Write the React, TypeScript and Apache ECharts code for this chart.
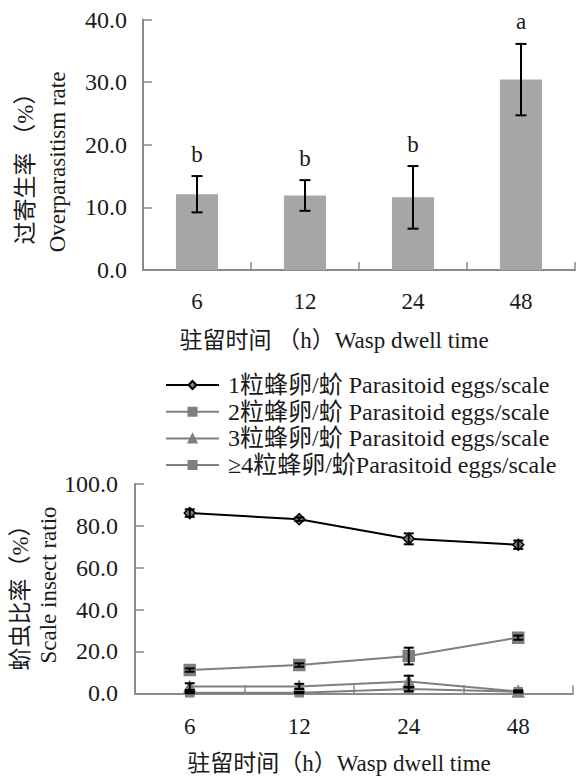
import React, { useEffect, useRef } from "react";
import * as echarts from "echarts";

const categories = ["6", "12", "24", "48"];
const overRate = [12.1, 11.9, 11.6, 30.4];
const overErr = [2.9, 2.45, 5.0, 5.7];
const overLetters = ["b", "b", "b", "a"];

const seriesNames = [
  "1粒蜂卵/蚧 Parasitoid eggs/scale",
  "2粒蜂卵/蚧 Parasitoid eggs/scale",
  "3粒蜂卵/蚧 Parasitoid eggs/scale",
  "≥4粒蜂卵/蚧Parasitoid eggs/scale",
];
const egg1 = [86.1, 83.2, 73.8, 71.0];
const egg1Err = [1.8, 0.8, 2.6, 2.0];
const egg2 = [11.1, 13.5, 17.8, 26.6];
const egg2Err = [0.8, 0.8, 4.0, 1.0];
const egg3 = [3.2, 3.3, 5.6, 0.9];
const egg3Err = [1.6, 1.2, 2.8, 0.5];
const egg4 = [0.3, 0.3, 2.0, 0.8];
const egg4Err = [0.3, 0.3, 1.0, 0.3];

const FONT = "Liberation Serif, Noto Sans CJK SC, serif";
const AX = "#8a8a8a";
const TXT = "#1a1a1a";
const GREY = "#7f7f7f";

function errorRender(capHalf: number, withLetter: boolean) {
  return (params: any, api: any) => {
    const idx = api.value(0);
    const v = api.value(1);
    const e = api.value(2);
    const hi = api.coord([idx, v + e]);
    const lo = api.coord([idx, Math.max(v - e, 0)]);
    const style = { stroke: "#000", lineWidth: 2 };
    const children: any[] = [
      { type: "line", shape: { x1: hi[0], y1: hi[1], x2: lo[0], y2: lo[1] }, style },
      { type: "line", shape: { x1: hi[0] - capHalf, y1: hi[1], x2: hi[0] + capHalf, y2: hi[1] }, style },
      { type: "line", shape: { x1: lo[0] - capHalf, y1: lo[1], x2: lo[0] + capHalf, y2: lo[1] }, style },
    ];
    if (withLetter) {
      children.push({
        type: "text",
        x: hi[0],
        y: hi[1] - 22,
        style: {
          text: overLetters[params.dataIndex],
          fontFamily: FONT,
          fontSize: 23,
          fill: TXT,
          textAlign: "center",
          textVerticalAlign: "middle",
        },
      });
    }
    return { type: "group", children };
  };
}

export default function App() {
  const ref = useRef<HTMLDivElement>(null);
  useEffect(() => {
    document.body.style.margin = "0";
    const chart = echarts.init(ref.current!, null, { renderer: "svg" });
    const xAxisBase = (gridIndex: number, margin: number) => ({
      type: "category",
      gridIndex,
      data: categories,
      boundaryGap: true,
      axisLine: { lineStyle: { color: AX, width: 2 } },
      axisTick: { show: true, inside: true, length: 8, lineStyle: { color: AX, width: 1.5 } },
      axisLabel: { margin, fontSize: 23, color: TXT, fontFamily: FONT },
      splitLine: { show: false },
    });
    const yAxisBase = (gridIndex: number, max: number, interval: number, margin: number) => ({
      type: "value",
      gridIndex,
      min: 0,
      max,
      interval,
      axisLine: { show: true, lineStyle: { color: AX, width: 2 } },
      axisTick: { show: true, inside: true, length: 9, lineStyle: { color: AX, width: 1.5 } },
      axisLabel: {
        margin,
        fontSize: 24,
        color: TXT,
        fontFamily: FONT,
        formatter: (v: number) => v.toFixed(1),
      },
      splitLine: { show: false },
    });
    const lineSeries = (name: string, data: number[], symbol: string, size: number, lineColor: string, borderColor: string) => ({
      type: "line",
      name,
      xAxisIndex: 1,
      yAxisIndex: 1,
      data,
      symbol,
      symbolSize: size,
      lineStyle: { color: lineColor, width: 2 },
      itemStyle: { color: GREY, borderColor, borderWidth: 1.5 },
      z: 3,
    });
    const errData = (vals: number[], errs: number[]) => vals.map((v, i) => [i, v, errs[i]]);
    chart.setOption({
      animation: false,
      textStyle: { fontFamily: FONT },
      grid: [
        { left: 143, top: 19.5, width: 432, height: 250.5 },
        { left: 135, top: 484, width: 438, height: 209.3 },
      ],
      xAxis: [xAxisBase(0, 20), xAxisBase(1, 22)],
      yAxis: [yAxisBase(0, 40, 10, 16), yAxisBase(1, 100, 20, 17)],
      legend: {
        data: seriesNames,
        orient: "vertical",
        left: 165,
        top: 373,
        padding: 0,
        itemWidth: 53,
        itemHeight: 10,
        itemGap: 2.7,
        textStyle: { fontSize: 24, color: TXT, fontFamily: FONT, lineHeight: 24, padding: [0, 0, 0, 4] },
      },
      series: [
        {
          type: "bar",
          xAxisIndex: 0,
          yAxisIndex: 0,
          data: overRate,
          barWidth: "39%",
          itemStyle: { color: "#a6a6a6" },
        },
        {
          type: "custom",
          xAxisIndex: 0,
          yAxisIndex: 0,
          data: overRate.map((v, i) => [i, v, overErr[i]]),
          encode: { x: 0, y: 1 },
          renderItem: errorRender(5.5, true),
          z: 5,
        },
        lineSeries(seriesNames[0], egg1, "diamond", 11, "#000", "#000"),
        lineSeries(seriesNames[1], egg2, "rect", 11, GREY, GREY),
        lineSeries(seriesNames[2], egg3, "triangle", 11, GREY, GREY),
        lineSeries(seriesNames[3], egg4, "rect", 8, GREY, GREY),
        {
          type: "custom",
          xAxisIndex: 1,
          yAxisIndex: 1,
          data: [
            ...errData(egg1, egg1Err),
            ...errData(egg2, egg2Err),
            ...errData(egg3, egg3Err),
            ...errData(egg4, egg4Err),
          ],
          encode: { x: 0, y: 1 },
          renderItem: errorRender(5, false),
          z: 4,
        },
      ],
      graphic: [
        {
          type: "text",
          x: 25,
          y: 163,
          rotation: Math.PI / 2,
          style: { text: "过寄生率 （%）", fontFamily: FONT, fontSize: 23, fill: TXT, textAlign: "center", textVerticalAlign: "middle" },
        },
        {
          type: "text",
          x: 57,
          y: 162,
          rotation: Math.PI / 2,
          style: { text: "Overparasitism rate", fontFamily: FONT, fontSize: 23, fill: TXT, textAlign: "center", textVerticalAlign: "middle" },
        },
        {
          type: "text",
          x: 334,
          y: 340,
          style: { text: "驻留时间 （h）Wasp dwell time", fontFamily: FONT, fontSize: 23, fill: TXT, textAlign: "center", textVerticalAlign: "middle" },
        },
        {
          type: "text",
          x: 20,
          y: 592,
          rotation: Math.PI / 2,
          style: { text: "蚧虫比率（%）", fontFamily: FONT, fontSize: 23, fill: TXT, textAlign: "center", textVerticalAlign: "middle" },
        },
        {
          type: "text",
          x: 48,
          y: 585,
          rotation: Math.PI / 2,
          style: { text: "Scale insect ratio", fontFamily: FONT, fontSize: 23, fill: TXT, textAlign: "center", textVerticalAlign: "middle" },
        },
        {
          type: "text",
          x: 339,
          y: 763,
          style: { text: "驻留时间（h）Wasp dwell time", fontFamily: FONT, fontSize: 23, fill: TXT, textAlign: "center", textVerticalAlign: "middle" },
        },
      ],
    });
    return () => chart.dispose();
  }, []);
  return <div ref={ref} style={{ width: 576, height: 778 }} />;
}
